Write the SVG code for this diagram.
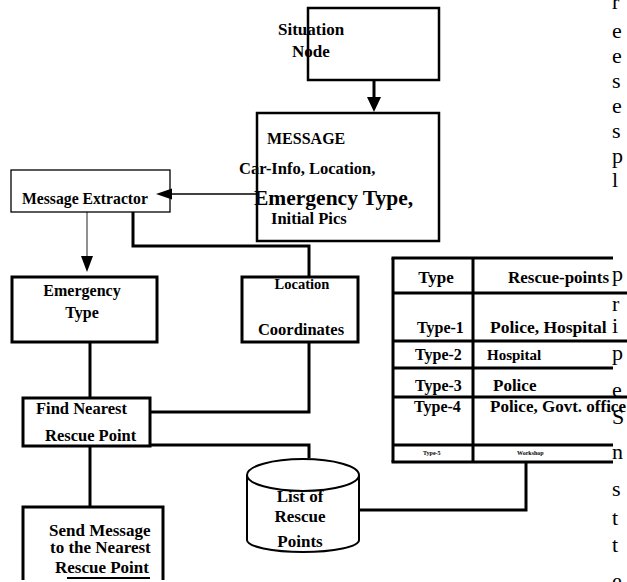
<svg xmlns="http://www.w3.org/2000/svg" width="627" height="582" viewBox="0 0 627 582">
<style>
.b{fill:none;stroke:#000;stroke-width:2.5}
.t{font-family:"Liberation Serif","Times New Roman",serif;font-weight:bold;fill:#000}
.c{stroke:#000;stroke-width:3;fill:none}
.thin{stroke:#000;stroke-width:1.3;fill:none}
.bg{font-family:"Liberation Serif","Times New Roman",serif;font-size:22px;fill:#000}
</style>
<rect width="627" height="582" fill="#fff"/>
<g id="body-text">
<text class="bg" x="612" y="9">r</text>
<text class="bg" x="612" y="38">e</text>
<text class="bg" x="612" y="63">e</text>
<text class="bg" x="612" y="88">s</text>
<text class="bg" x="612" y="113">e</text>
<text class="bg" x="612" y="138">s</text>
<text class="bg" x="612" y="163">p</text>
<text class="bg" x="612" y="187">l</text>
<text class="bg" x="612" y="281">p</text>
<text class="bg" x="612" y="311">r</text>
<text class="bg" x="612" y="333">i</text>
<text class="bg" x="612" y="360">p</text>
<text class="bg" x="612" y="397">e</text>
<text class="bg" x="612" y="424">S</text>
<text class="bg" x="612" y="459">n</text>
<text class="bg" x="612" y="496">s</text>
<text class="bg" x="612" y="525">t</text>
<text class="bg" x="612" y="552">t</text>
<text class="bg" x="612" y="588">e</text>
</g>
<g id="connectors">
<line class="c" x1="374" y1="80" x2="374" y2="99"/>
<polygon points="367,97 381,97 374,112" fill="#000"/>
<line class="thin" x1="257" y1="194" x2="170" y2="194"/>
<polygon points="156,194 172,188.5 172,199.5" fill="#000"/>
<line x1="87" y1="212" x2="87" y2="258" stroke="#555" stroke-width="1.3"/>
<polygon points="81,256 93,256 87,272" fill="#000"/>
<polyline class="c" points="133,212 133,246 309,246 309,277" stroke-width="2.5"/>
<polyline class="c" points="309,342 309,412 150,412"/>
<line class="c" x1="90" y1="342" x2="90" y2="398"/>
<polyline class="c" points="150,445 309,445 309,458"/>
<line class="c" x1="90" y1="446" x2="90" y2="507"/>
<polyline class="c" points="359,510 526,510 526,462"/>
</g>
<g id="situation-node">
<rect class="b" x="308" y="8" width="131" height="72"/>
<text class="t" x="278" y="35" font-size="17">Situation</text>
<text class="t" x="292" y="57" font-size="17">Node</text>
</g>
<g id="message">
<rect class="b" x="257" y="113" width="182" height="128"/>
<text class="t" x="267" y="144" font-size="16">MESSAGE</text>
<text class="t" x="239" y="174" font-size="16.5">Car-Info, Location,</text>
<text class="t" x="254" y="205" font-size="21.5">Emergency Type,</text>
<text class="t" x="271" y="224" font-size="16.5">Initial Pics</text>
</g>
<g id="message-extractor">
<rect class="thin" x="11" y="170" width="159" height="42"/>
<text class="t" x="22" y="204" font-size="15.7">Message Extractor</text>
</g>
<g id="emergency-type">
<rect class="c" x="12" y="277" width="145" height="65"/>
<text class="t" x="82" y="296" font-size="16" text-anchor="middle">Emergency</text>
<text class="t" x="82" y="318" font-size="16" text-anchor="middle">Type</text>
</g>
<g id="location-coordinates">
<rect class="c" x="242" y="277" width="116" height="65"/>
<text class="t" x="302" y="289" font-size="14.5" text-anchor="middle">Location</text>
<text class="t" x="301" y="335" font-size="16.5" text-anchor="middle">Coordinates</text>
</g>
<g id="find-nearest">
<rect class="c" x="23" y="398" width="127" height="48"/>
<text class="t" x="36" y="414" font-size="16.5">Find Nearest</text>
<text class="t" x="45" y="441" font-size="16.5">Rescue Point</text>
</g>
<g id="send-message">
<path class="c" d="M23,580 V507 H163 V580"/>
<path d="M67,578 H150" stroke="#000" stroke-width="2"/>
<text class="t" x="49" y="536" font-size="17">Send Message</text>
<text class="t" x="50" y="553" font-size="17">to the Nearest</text>
<text class="t" x="55" y="573" font-size="17">Rescue Point</text>
</g>
<g id="rescue-list">
<path d="M247,475 V540 A56,12 0 0 0 359,540 V475" fill="#fff" stroke="#000" stroke-width="2"/>
<ellipse cx="303" cy="475" rx="56" ry="16" fill="#fff" stroke="#000" stroke-width="2"/>
<text class="t" x="300" y="502" font-size="17" text-anchor="middle">List of</text>
<text class="t" x="300" y="522" font-size="17" text-anchor="middle">Rescue</text>
<text class="t" x="300" y="547" font-size="17" text-anchor="middle">Points</text>
</g>
<g id="rescue-table">
<g class="c">
<line x1="391.5" y1="258" x2="613" y2="258"/>
<line x1="393" y1="293" x2="627" y2="293"/>
<line x1="393" y1="341" x2="627" y2="341"/>
<line x1="393" y1="368" x2="613" y2="368"/>
<line x1="393" y1="397" x2="627" y2="397"/>
<line x1="393" y1="445" x2="613" y2="445"/>
<line x1="391.5" y1="462" x2="613" y2="462"/>
<line x1="393" y1="258" x2="393" y2="462"/>
<line x1="473" y1="258" x2="473" y2="462"/>
</g>
<text class="t" x="436" y="283" font-size="17" text-anchor="middle">Type</text>
<text class="t" x="508" y="283" font-size="17">Rescue-points</text>
<text class="t" x="417" y="333" font-size="16">Type-1</text>
<text class="t" x="490" y="333" font-size="17.5">Police, Hospital</text>
<text class="t" x="415" y="360" font-size="16">Type-2</text>
<text class="t" x="487" y="360" font-size="15">Hospital</text>
<text class="t" x="415" y="391" font-size="16">Type-3</text>
<text class="t" x="493" y="391" font-size="17">Police</text>
<text class="t" x="414" y="412" font-size="16">Type-4</text>
<text class="t" x="490" y="412" font-size="17">Police, Govt. office</text>
<text class="t" x="423" y="455" font-size="6">Type-5</text>
<text class="t" x="517" y="455" font-size="6">Workshop</text>
</g>
</svg>
